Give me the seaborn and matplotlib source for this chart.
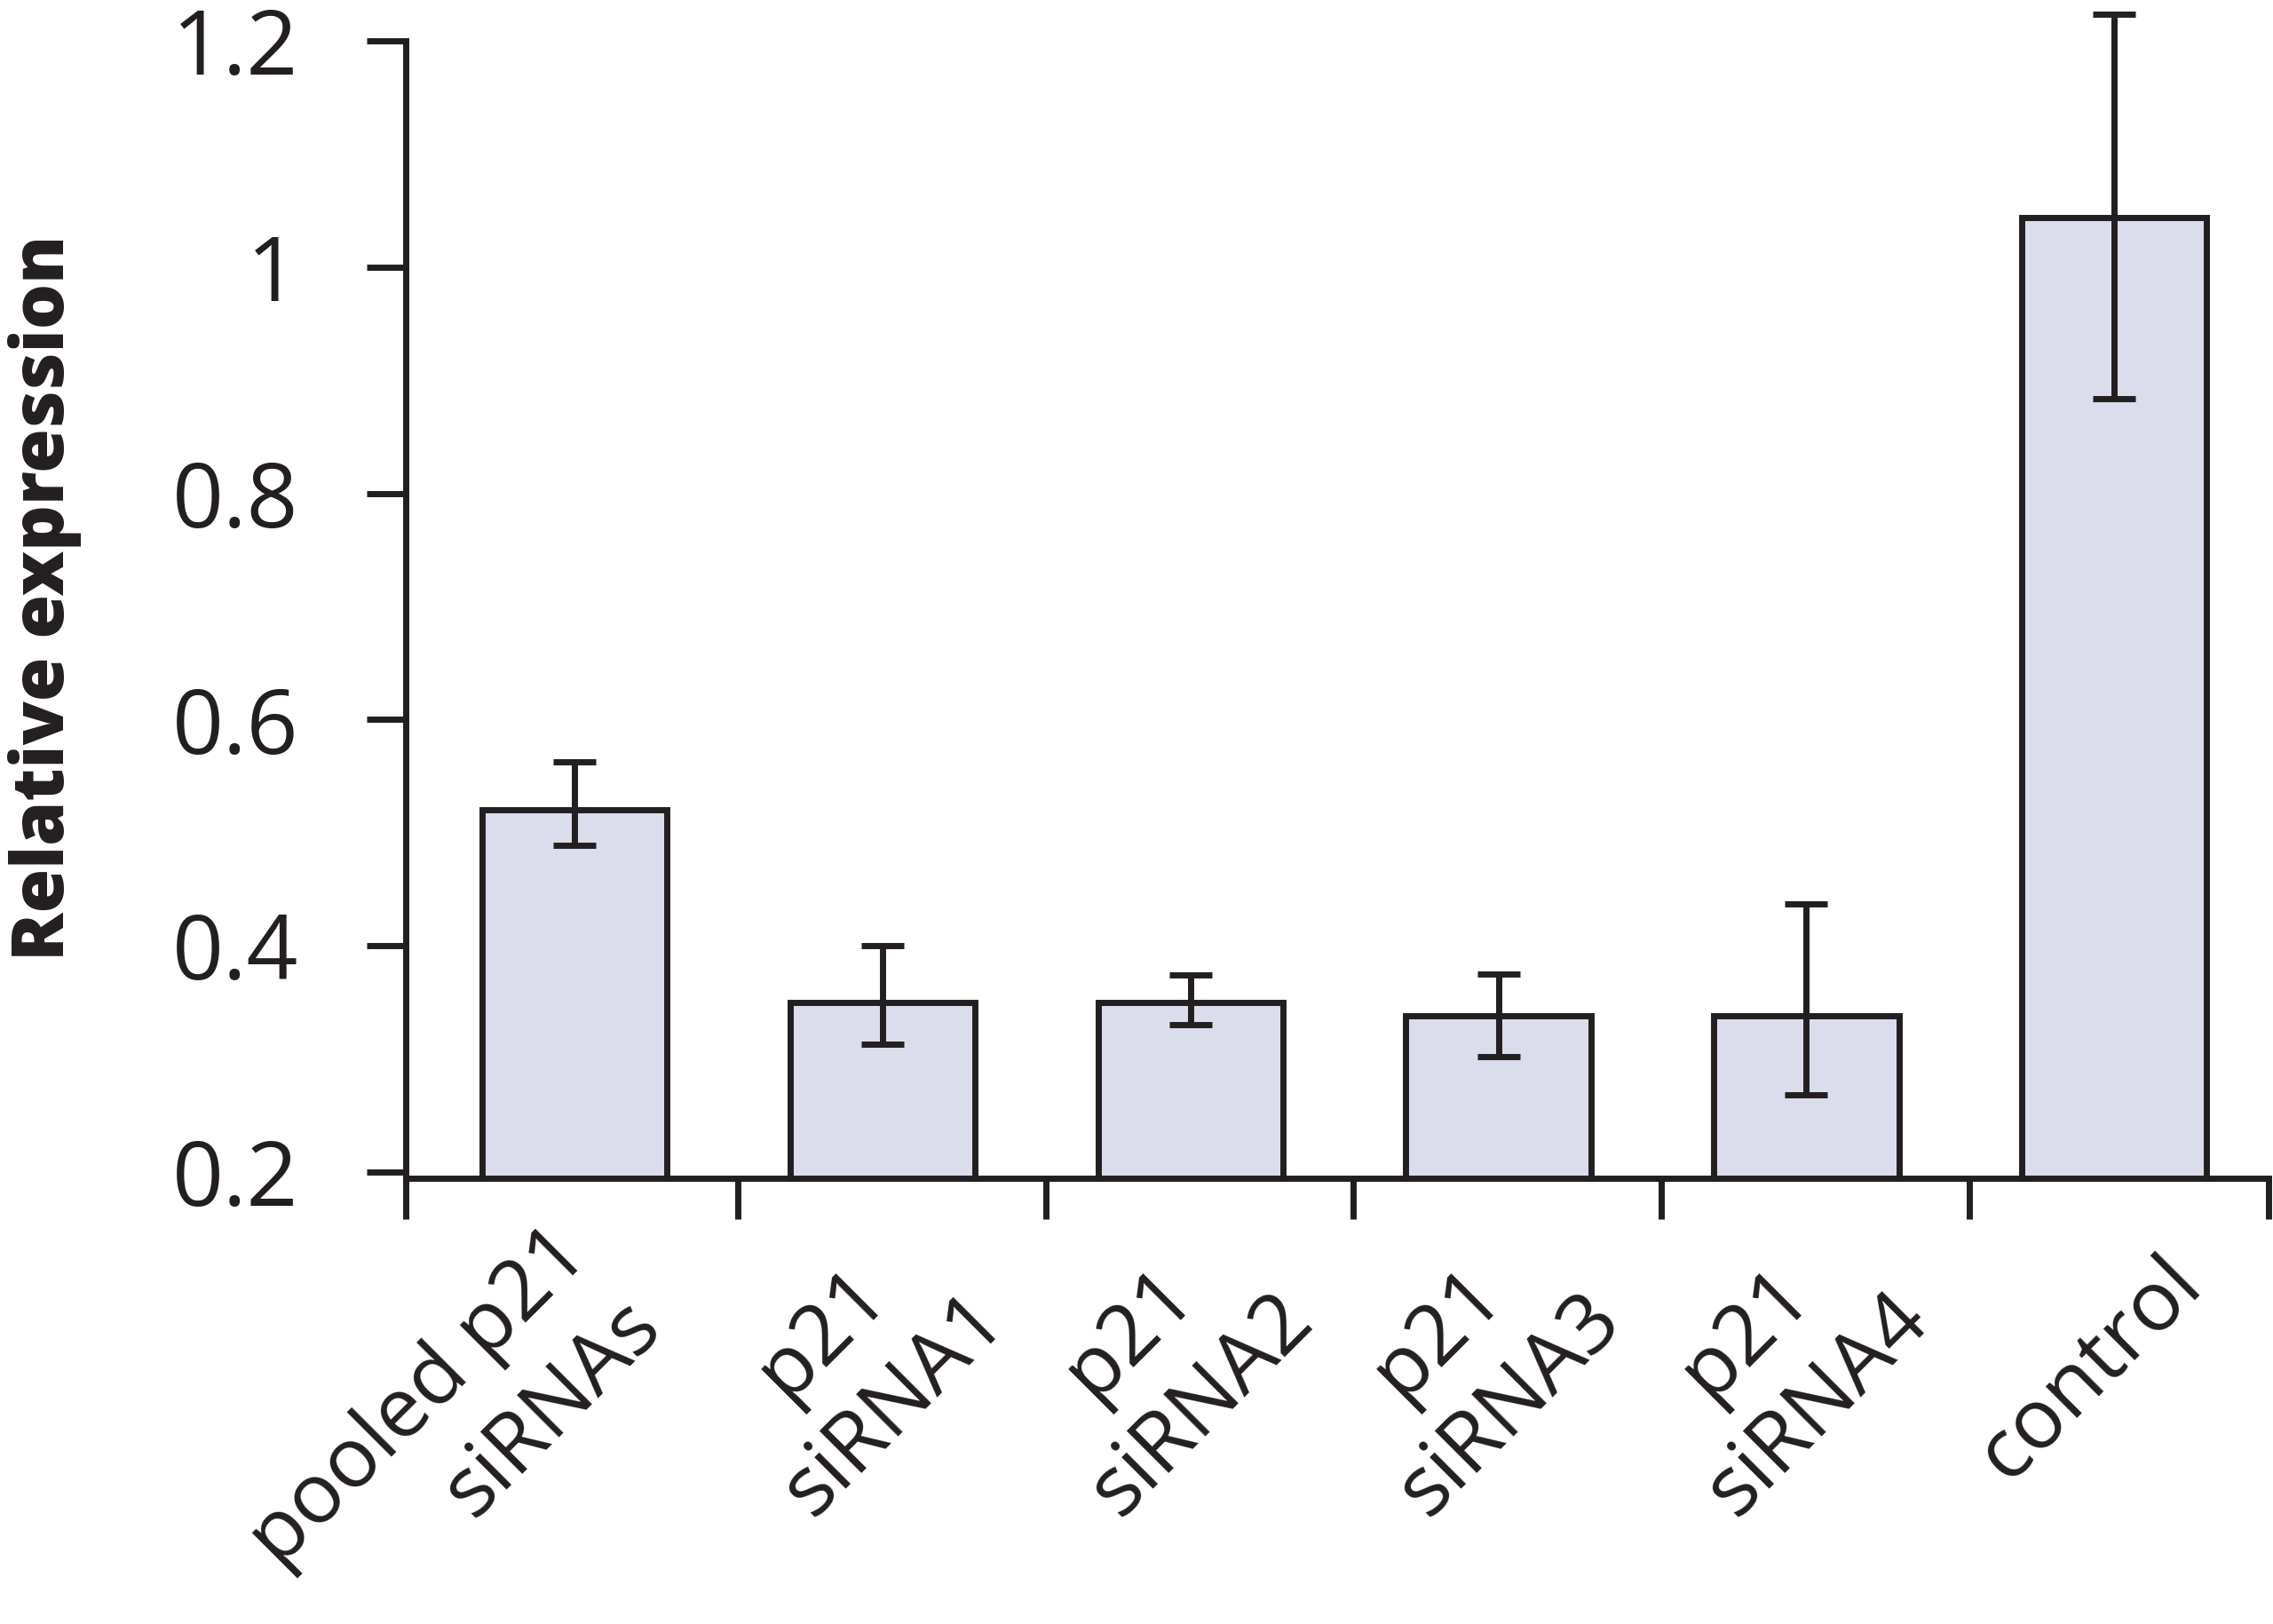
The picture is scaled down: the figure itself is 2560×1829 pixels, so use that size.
import numpy as np
import pandas as pd
import matplotlib
matplotlib.use("Agg")
import matplotlib.pyplot as plt
from matplotlib.transforms import ScaledTranslation
import seaborn as sns

# ---- data ----
categories = ["pooled p21\nsiRNAs", "p21\nsiRNA1", "p21\nsiRNA2",
              "p21\nsiRNA3", "p21\nsiRNA4", "control"]
values = [0.520, 0.350, 0.350, 0.338, 0.338, 1.044]
err_low = [0.489, 0.313, 0.330, 0.302, 0.268, 0.884]
err_high = [0.563, 0.400, 0.374, 0.375, 0.437, 1.224]
y_ticks = [0.2, 0.4, 0.6, 0.8, 1.0, 1.2]
y_tick_labels = ["0.2", "0.4", "0.6", "0.8", "1", "1.2"]
y_label = "Relative expression"

BAR = "#DBDDED"
INK = "#231F20"
LW = 5

sns.set_theme(style="ticks")
plt.rcParams["font.family"] = ["Open Sans", "DejaVu Sans"]

fig = plt.figure(figsize=(25.6, 18.29), dpi=100)
ax = fig.add_axes([0.1785, 0.2745, 0.8195, 0.7003])

df = pd.DataFrame({"cat": categories, "val": values})
sns.barplot(data=df, x="cat", y="val", color=BAR, saturation=1,
            edgecolor=INK, linewidth=LW, width=0.6, errorbar=None, ax=ax)

xs = [p.get_x() + p.get_width() / 2 for p in ax.patches]
yerr = [[v - l for v, l in zip(values, err_low)],
        [h - v for v, h in zip(values, err_high)]]
ax.errorbar(xs, values, yerr=yerr, fmt="none", ecolor=INK, elinewidth=LW,
            capsize=17, capthick=LW, clip_on=False, zorder=5)

ax.set_xlim(-0.547, 5.5)
ax.set_ylim(0.1945, 1.2)

# y axis
ax.set_yticks(y_ticks)
ax.set_yticklabels(y_tick_labels, fontsize=73, color=INK)
ax.tick_params(axis="y", direction="out", length=32, width=LW, color=INK, pad=55)

# x axis: labels centred a little below each bar, ticks at boundaries
ax.set_xticks(np.arange(len(categories)) - 0.078)
ax.set_xticklabels(categories, rotation=45, ha="center", va="center",
                   rotation_mode="anchor", multialignment="center",
                   fontsize=68, color=INK, linespacing=1.3)
ax.tick_params(axis="x", which="major", length=0, pad=155)
lo, hi = ax.get_xlim()
bounds = [lo] + [i + 0.53 for i in range(len(categories) - 1)] + [hi]
ax.set_xticks(bounds, minor=True)
ax.tick_params(axis="x", which="minor", direction="out", length=33, width=LW, color=INK)

# the first (longer) label sits a little lower-left, lines right-aligned
lab0 = ax.get_xticklabels()[0]
lab0.set_multialignment("right")
lab0.set_transform(lab0.get_transform() +
                   ScaledTranslation(-1.06, -0.73, fig.dpi_scale_trans))

ax.set_xlabel("")
ax.set_ylabel(y_label, fontsize=58, fontweight=800, color=INK)
ax.yaxis.set_label_coords(-0.174, 0.51)

sns.despine(ax=ax)
for s in ("left", "bottom"):
    ax.spines[s].set_linewidth(LW)
    ax.spines[s].set_color(INK)

fig.savefig("out.png", dpi=100, facecolor="white")
